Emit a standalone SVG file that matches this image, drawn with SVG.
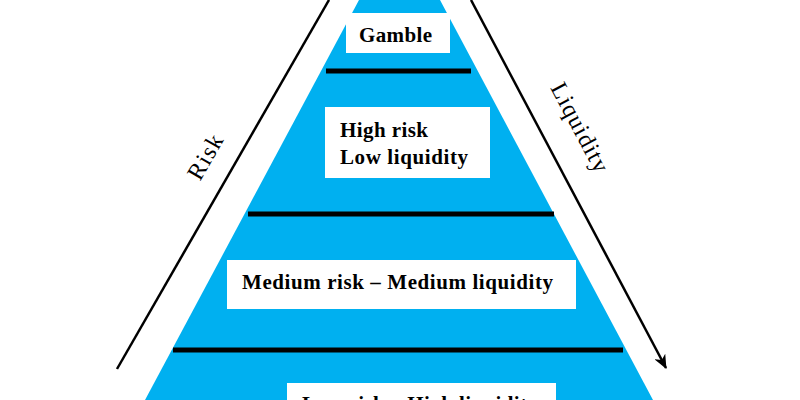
<svg xmlns="http://www.w3.org/2000/svg" width="800" height="400" viewBox="0 0 800 400">
  <style>
    .lbl { font-family: "Liberation Serif", "DejaVu Serif", serif; font-weight: bold; font-size: 21px; fill: #000; }
    .axis { font-family: "Liberation Serif", "DejaVu Serif", serif; font-size: 24px; fill: #000; }
    .box { fill: #fff; }
    .bar { stroke: #000; stroke-width: 5; }
    .ax { stroke: #000; stroke-width: 2.5; fill: none; }
  </style>
  <defs>
    <marker id="arr" markerUnits="userSpaceOnUse" markerWidth="14" markerHeight="12" viewBox="0 0 14 12" refX="13" refY="6" orient="auto">
      <path d="M0,0 L14,6 L0,12 L4,6 z" fill="#000"/>
    </marker>
  </defs>
  <rect width="800" height="400" fill="#fff"/>
  <g id="pyramid">
    <polygon points="359,0 440,0 653,400 145,400" fill="#00B0F0"/>
    <line class="bar" x1="326" y1="71" x2="471" y2="71"/>
    <line class="bar" x1="248" y1="214" x2="554" y2="214"/>
    <line class="bar" x1="173" y1="350" x2="623" y2="350"/>
  </g>
  <g id="gamble">
    <rect class="box" x="346" y="13" width="104" height="40"/>
    <text class="lbl" x="359" y="42" textLength="73" lengthAdjust="spacing">Gamble</text>
  </g>
  <g id="high-risk">
    <rect class="box" x="325" y="107" width="165" height="71"/>
    <text class="lbl" x="340" y="137" textLength="88" lengthAdjust="spacing">High risk</text>
    <text class="lbl" x="340" y="164" textLength="128" lengthAdjust="spacing">Low liquidity</text>
  </g>
  <g id="medium-risk">
    <rect class="box" x="227" y="260" width="349" height="49"/>
    <text class="lbl" x="242" y="289" textLength="311" lengthAdjust="spacing">Medium risk – Medium liquidity</text>
  </g>
  <g id="low-risk">
    <rect class="box" x="287" y="383" width="269" height="40"/>
    <text class="lbl" x="302" y="411" textLength="236" lengthAdjust="spacing">Low risk – High liquidity</text>
  </g>
  <g id="connectors">
    <line class="ax" x1="117" y1="369" x2="329" y2="0"/>
    <line class="ax" x1="471" y1="0" x2="666" y2="368" marker-end="url(#arr)"/>
  </g>
  <g id="risk-label">
    <text class="axis" transform="translate(212,161) rotate(-60)" text-anchor="middle" textLength="48" lengthAdjust="spacing">Risk</text>
  </g>
  <g id="liquidity-label">
    <text class="axis" transform="translate(573,131) rotate(62)" text-anchor="middle" textLength="98" lengthAdjust="spacing">Liquidity</text>
  </g>
</svg>
